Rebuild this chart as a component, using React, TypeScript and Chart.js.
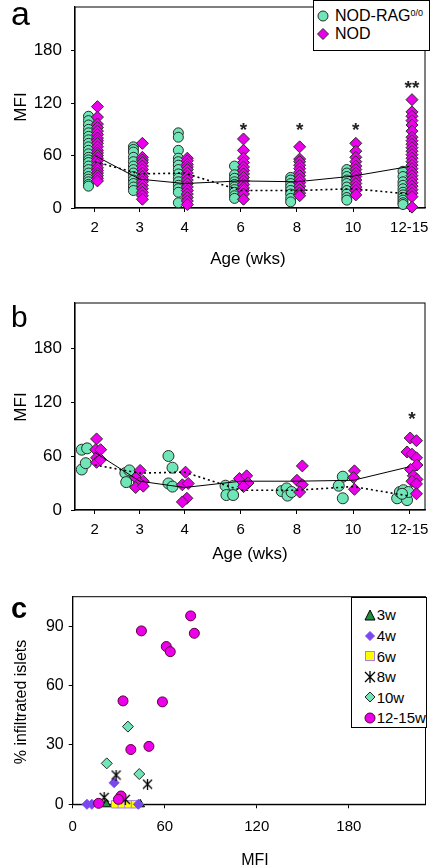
import React, { useEffect, useRef } from 'react';
import { Chart, registerables } from 'chart.js';

Chart.register(...registerables);

const FONT = '"Liberation Sans", Arial, Helvetica, sans-serif';

// ---------- shared axis data ----------
const AGE_LABELS = ['2', '3', '4', '6', '8', '10', '12-15'];
const AGE_POS = [1, 2, 3, 4.25, 5.5, 6.75, 8];
const AGE_MIN = 0.56;
const AGE_MAX = 8.35;
const MFI_TICKS = [0, 60, 120, 180];
const MFI_MAX = 230;

// ---------- panel a ----------
const A_RAG_MFI = [
  [105, 100, 95, 90, 86, 82, 78, 74, 70, 66, 62, 58, 55, 52, 48, 44, 40, 36, 33, 30, 27, 25],
  [70, 67, 64, 58, 53, 48, 44, 40, 36, 32, 28, 24, 20],
  [86, 81, 66, 57, 53, 49, 44, 39, 34, 30, 26, 22, 18, 6],
  [48, 38, 34, 30, 27, 24, 21, 18, 14, 11],
  [35, 32, 28, 24, 20, 16, 11, 7],
  [44, 40, 36, 32, 28, 24, 20, 16, 12, 9],
  [42, 36, 30, 26, 22, 18, 15, 12, 9, 6, 4],
];
const A_NOD_MFI = [
  [116, 104, 96, 92, 88, 84, 80, 77, 74, 70, 66, 63, 60, 57, 54, 50, 46, 43, 40, 37, 34, 31],
  [74, 58, 55, 52, 48, 44, 40, 36, 33, 30, 26, 22, 18, 14, 10],
  [57, 54, 50, 47, 44, 40, 36, 32, 28, 24, 20, 16, 12, 8, 4],
  [79, 66, 57, 52, 47, 43, 39, 35, 31, 27, 23, 20, 16, 10],
  [70, 56, 53, 49, 45, 41, 37, 33, 29, 25, 21, 17, 14],
  [74, 65, 58, 53, 48, 44, 40, 36, 32, 28, 24, 20, 15],
  [124, 110, 105, 100, 95, 88, 81, 77, 73, 69, 65, 61, 57, 53, 49, 45, 41, 37, 33, 29, 25, 21, 17, 13, 1],
];
const A_NOD_MEAN = [60, 33, 28, 31, 30, 36.5, 47.5];
const A_RAG_MEAN = [53, 39, 40, 20, 20, 22, 16];
const A_SIG = ['', '', '', '*', '*', '*', '**'];
const A_SIG_MFI = [0, 0, 0, 90, 90, 90, 139];

// ---------- panel b ----------
const B_RAG_X = [0.71, 0.8, 0.71, 0.83, 1.68, 1.77, 1.7, 2.64, 2.73, 2.64, 2.73, 3.91, 4.09, 3.93, 4.08, 5.16, 5.27, 5.29, 5.38, 6.52, 6.43, 6.52, 7.73, 7.79, 7.87, 7.95, 7.98, 7.84];
const B_RAG_MFI = [45, 52, 67, 68.5, 41, 44, 31, 60, 47, 29.5, 26, 27, 27, 16.6, 16.6, 21, 24, 16, 20, 37, 27, 13, 13, 20, 22, 11, 20, 18];
const B_NOD_X = [1.04, 1.02, 1.13, 1.04, 1.04, 1.13, 2.01, 1.91, 2.08, 1.99, 1.91, 2.08, 3.02, 2.95, 3.08, 3.05, 2.95, 4.22, 4.38, 4.41, 4.31, 5.62, 5.5, 5.62, 5.56, 6.78, 6.76, 6.78, 8.02, 8.16, 7.95, 8.06, 8.16, 8.17, 8.03, 8.09, 8.17, 8.06, 8.16, 8.16];
const B_NOD_MFI = [79, 67, 67, 58, 53, 56, 44, 36, 32, 30, 25, 26.5, 42, 28, 29.5, 13, 9, 35, 38, 30, 26, 49, 33, 28, 20, 43.5, 36, 23, 80, 77, 64.5, 62, 58, 50, 45, 38, 34, 32, 29, 18];
const B_NOD_MEAN = [64, 32, 25, 32, 32, 33, 48];
const B_RAG_MEAN = [50, 41, 42, 22, 22, 26, 15.5];
const B_SIG = ['', '', '', '', '', '', '*'];
const B_SIG_MFI = [0, 0, 0, 0, 0, 0, 102];

// ---------- panel c ----------
const C_X_TICKS = [0, 60, 120, 180];
const C_Y_TICKS = [0, 30, 60, 90];
const C_X_MAX = 230;
const C_Y_MAX = 105;
const C_3W_MFI = [22, 44];
const C_3W_PCT = [0, 0];
const C_4W_MFI = [9.3, 12.5, 27, 42.8];
const C_4W_PCT = [0, 0, 10.9, 0];
const C_6W_MFI = [27.6, 32, 36.3, 40.6];
const C_6W_PCT = [0, 0, 0, 0];
const C_8W_MFI = [28.3, 48.8, 20.5, 34.3];
const C_8W_PCT = [14.8, 10.2, 3.5, 2.5];
const C_10W_MFI = [22.2, 36, 43.4];
const C_10W_PCT = [20.7, 39.3, 15.3];
const C_12W_MFI = [76.9, 79.3, 44.8, 61, 63.6, 32.8, 58.5, 49.7, 37.9, 31.5, 29.8, 16.9];
const C_12W_PCT = [95.3, 86.5, 87.7, 79.8, 77.2, 52.3, 51.8, 29.3, 27.7, 4.2, 2.5, 0.5];

// ---------- colours ----------
const RAG_COLOR = '#6FE6B7';
const NOD_COLOR = '#EC00EC';
const EDGE = '#2a2a2a';
const C3_COLOR = '#1F8F3F';
const C4_COLOR = '#7B48F0';
const C6_COLOR = '#FFFF00';
const C6_EDGE = '#A77FE8';
const C12_EDGE = '#5a0030';

type Area = { left: number; top: number; right: number; bottom: number };

const zip = (xs: number[], ys: number[]) => xs.map((x, i) => ({ x, y: ys[i] }));

function axis(values: number[], labels: string[] | null, min: number, max: number, size: number, pad: number, fit: (s: any) => void) {
  return {
    type: 'linear',
    min,
    max,
    afterBuildTicks: (s: any) => {
      s.ticks = values.map((v) => ({ value: v }));
    },
    afterFit: (s: any) => {
      fit(s);
      s.paddingTop = 0;
      s.paddingBottom = 0;
      s.paddingLeft = 0;
      s.paddingRight = 0;
    },
    grid: { display: true, drawOnChartArea: false, drawTicks: true, tickLength: 4, color: '#000', lineWidth: 1 },
    border: { display: true, color: '#000', width: 1.2 },
    ticks: {
      autoSkip: false,
      maxRotation: 0,
      minRotation: 0,
      padding: pad,
      color: '#000',
      font: { family: FONT, size },
      callback: (_v: any, i: number) => (labels ? labels[i] : String(values[i])),
    },
  };
}

const framePlugin = {
  id: 'frame',
  beforeDatasetsDraw(chart: any) {
    const { ctx, chartArea } = chart;
    const { left, top, right, bottom } = chartArea;
    ctx.save();
    ctx.strokeStyle = '#000';
    ctx.lineWidth = 1;
    ctx.strokeRect(left, top, right - left, bottom - top);
    ctx.restore();
  },
};

function sigPlugin(xs: number[], ys: number[], texts: string[]) {
  return {
    id: 'sig',
    afterDatasetsDraw(chart: any) {
      const { ctx, scales } = chart;
      ctx.save();
      ctx.font = `bold 19px ${FONT}`;
      ctx.fillStyle = '#222';
      ctx.textAlign = 'center';
      ctx.textBaseline = 'alphabetic';
      texts.forEach((t, i) => {
        if (!t) return;
        ctx.fillText(t, scales.x.getPixelForValue(xs[i]), scales.y.getPixelForValue(ys[i]) + 7);
      });
      ctx.restore();
    },
  };
}

function baseOptions(area: Area, W: number, H: number, scales: any) {
  return {
    responsive: false,
    animation: false,
    events: [],
    layout: { padding: { left: 0, top: area.top, right: W - area.right, bottom: 0 } },
    plugins: { legend: { display: false }, tooltip: { enabled: false } },
    scales,
  };
}

function ageChartConfig(
  area: Area,
  W: number,
  H: number,
  rag: { x: number; y: number }[],
  nod: { x: number; y: number }[],
  ragMean: number[],
  nodMean: number[],
  sigTexts: string[],
  sigY: number[],
  ragR: number,
  nodR: number,
  xPad: number
) {
  const scales = {
    x: axis(AGE_POS, AGE_LABELS, AGE_MIN, AGE_MAX, 15, xPad, (s: any) => {
      s.height = H - area.bottom;
    }),
    y: axis(MFI_TICKS, null, 0, MFI_MAX, 17, 9, (s: any) => {
      s.width = area.left;
    }),
  };
  return {
    type: 'scatter',
    data: {
      datasets: [
        {
          label: 'NOD mean',
          data: zip(AGE_POS, nodMean),
          showLine: true,
          pointRadius: 0,
          borderColor: '#000',
          borderWidth: 1,
          order: 0,
          clip: false,
        },
        {
          label: 'NOD-RAG mean',
          data: zip(AGE_POS, ragMean),
          showLine: true,
          pointRadius: 0,
          borderColor: '#000',
          borderWidth: 1.6,
          borderDash: [2, 3],
          order: 0,
          clip: false,
        },
        {
          label: 'NOD',
          data: nod,
          pointStyle: 'rectRot',
          pointRadius: nodR,
          pointBackgroundColor: NOD_COLOR,
          pointBorderColor: EDGE,
          pointBorderWidth: 1,
          order: 1,
          clip: false,
        },
        {
          label: 'NOD-RAG',
          data: rag,
          pointStyle: 'circle',
          pointRadius: ragR,
          pointBackgroundColor: RAG_COLOR,
          pointBorderColor: EDGE,
          pointBorderWidth: 1,
          order: 2,
          clip: false,
        },
      ],
    },
    options: baseOptions(area, W, H, scales),
    plugins: [framePlugin, sigPlugin(AGE_POS.map((p) => p + 0.06), sigY, sigTexts)],
  };
}

function makeAsterisk(size: number) {
  const c = document.createElement('canvas');
  c.width = size;
  c.height = size;
  const g = c.getContext('2d')!;
  g.strokeStyle = '#000';
  g.lineWidth = 1.3;
  g.beginPath();
  g.moveTo(1, 1);
  g.lineTo(size - 1, size - 1);
  g.moveTo(size - 1, 1);
  g.lineTo(1, size - 1);
  g.moveTo(size / 2, 0);
  g.lineTo(size / 2, size);
  g.stroke();
  return c;
}

function cChartConfig(area: Area, W: number, H: number) {
  const scales = {
    x: axis(C_X_TICKS, null, 0, C_X_MAX, 15, 10, (s: any) => {
      s.height = H - area.bottom;
    }),
    y: axis(C_Y_TICKS, null, 0, C_Y_MAX, 16, 5, (s: any) => {
      s.width = area.left;
    }),
  };
  const common = { clip: false, pointBorderWidth: 1 };
  return {
    type: 'scatter',
    data: {
      datasets: [
        { label: '3w', data: zip(C_3W_MFI, C_3W_PCT), pointStyle: 'triangle', pointRadius: 5, pointBackgroundColor: C3_COLOR, pointBorderColor: '#000', order: 4, ...common },
        { label: '4w', data: zip(C_4W_MFI, C_4W_PCT), pointStyle: 'rectRot', pointRadius: 5, pointBackgroundColor: C4_COLOR, pointBorderColor: C4_COLOR, order: 3, ...common },
        { label: '6w', data: zip(C_6W_MFI, C_6W_PCT), pointStyle: 'rect', pointRadius: 5.2, pointBackgroundColor: C6_COLOR, pointBorderColor: C6_EDGE, order: 5, ...common },
        { label: '8w', data: zip(C_8W_MFI, C_8W_PCT), pointStyle: makeAsterisk(11), pointRadius: 5, order: 1, ...common },
        { label: '10w', data: zip(C_10W_MFI, C_10W_PCT), pointStyle: 'rectRot', pointRadius: 5.5, pointBackgroundColor: RAG_COLOR, pointBorderColor: EDGE, order: 2, ...common },
        { label: '12-15w', data: zip(C_12W_MFI, C_12W_PCT), pointStyle: 'circle', pointRadius: 5, pointBackgroundColor: NOD_COLOR, pointBorderColor: C12_EDGE, order: 0, ...common },
      ],
    },
    options: baseOptions(area, W, H, scales),
    plugins: [framePlugin],
  };
}

function ChartCanvas({ top, width, height, make }: { top: number; width: number; height: number; make: () => any }) {
  const ref = useRef<HTMLCanvasElement>(null);
  useEffect(() => {
    const chart = new Chart(ref.current as HTMLCanvasElement, make());
    return () => chart.destroy();
  }, []);
  return <canvas ref={ref} width={width} height={height} style={{ position: 'absolute', left: 0, top, width, height }} />;
}

function Txt({ x, y, size, children, rotate, bold }: { x: number; y: number; size: number; children: any; rotate?: boolean; bold?: boolean }) {
  return (
    <div
      style={{
        position: 'absolute',
        left: x,
        top: y,
        fontSize: size,
        lineHeight: 1,
        whiteSpace: 'nowrap',
        fontWeight: bold ? 'bold' : 'normal',
        transform: `translate(-50%, -50%)${rotate ? ' rotate(-90deg)' : ''}`,
      }}
    >
      {children}
    </div>
  );
}

const W = 432;
const A_H = 270;
const A_AREA: Area = { left: 75, top: 1, right: 430, bottom: 208 };
const B_TOP = 270;
const B_H = 295;
const B_AREA: Area = { left: 75, top: 33, right: 428, bottom: 240 };
const C_TOP = 575;
const C_H = 292;
const C_AREA: Area = { left: 72.7, top: 21.7, right: 426.7, bottom: 229.3 };

function Diamond({ size, fill, stroke }: { size: number; fill: string; stroke: string }) {
  const h = size / 2;
  return (
    <svg width={size + 2} height={size + 2} style={{ display: 'block' }}>
      <polygon points={`${h + 1},1 ${size + 1},${h + 1} ${h + 1},${size + 1} 1,${h + 1}`} fill={fill} stroke={stroke} strokeWidth={1} />
    </svg>
  );
}

function LegendA() {
  const row = (cy: number, marker: any, text: any) => (
    <>
      <div style={{ position: 'absolute', left: 9, top: cy, transform: 'translate(-50%, -50%)' }}>{marker}</div>
      <div style={{ position: 'absolute', left: 21, top: cy - 9, fontSize: 16, lineHeight: '18px', whiteSpace: 'nowrap' }}>{text}</div>
    </>
  );
  return (
    <div style={{ position: 'absolute', left: 313, top: 0, width: 117, height: 51, border: '1px solid #000', boxSizing: 'border-box', background: '#fff' }}>
      {row(
        14.7,
        <svg width={12} height={12} style={{ display: 'block' }}>
          <circle cx={6} cy={6} r={5} fill={RAG_COLOR} stroke={EDGE} strokeWidth={1} />
        </svg>,
        <span>
          NOD-RAG<span style={{ fontSize: 9, position: 'relative', top: -5 }}>0/0</span>
        </span>
      )}
      {row(33.3, <Diamond size={11} fill={NOD_COLOR} stroke={EDGE} />, 'NOD')}
    </div>
  );
}

function LegendC() {
  const items: [any, string][] = [
    [
      <svg width={12} height={12} style={{ display: 'block' }}>
        <polygon points="6,1 11,11 1,11" fill={C3_COLOR} stroke="#000" strokeWidth={1} />
      </svg>,
      '3w',
    ],
    [<Diamond size={9} fill={C4_COLOR} stroke={C4_COLOR} />, '4w'],
    [
      <svg width={12} height={12} style={{ display: 'block' }}>
        <rect x={1.5} y={1.5} width={9} height={9} fill={C6_COLOR} stroke={C6_EDGE} strokeWidth={1} />
      </svg>,
      '6w',
    ],
    [
      <svg width={12} height={12} style={{ display: 'block' }}>
        <path d="M1,1 L11,11 M11,1 L1,11 M6,0 L6,12" stroke="#000" strokeWidth={1.3} />
      </svg>,
      '8w',
    ],
    [<Diamond size={10} fill={RAG_COLOR} stroke={EDGE} />, '10w'],
    [
      <svg width={12} height={12} style={{ display: 'block' }}>
        <circle cx={6} cy={6} r={5} fill={NOD_COLOR} stroke={C12_EDGE} strokeWidth={1} />
      </svg>,
      '12-15w',
    ],
  ];
  return (
    <div style={{ position: 'absolute', left: 350.7, top: 596.7, width: 76, height: 131.3, border: '1px solid #000', boxSizing: 'border-box', background: '#fff' }}>
      {items.map(([m, t], i) => {
        const cy = 17.3 + i * 20.6;
        return (
          <React.Fragment key={t}>
            <div style={{ position: 'absolute', left: 18.3, top: cy, transform: 'translate(-50%, -50%)' }}>{m}</div>
            <div style={{ position: 'absolute', left: 25, top: cy - 8.5, fontSize: 15, lineHeight: '17px', whiteSpace: 'nowrap' }}>{t}</div>
          </React.Fragment>
        );
      })}
    </div>
  );
}

export default function App() {
  const aRag = A_RAG_MFI.flatMap((vals, g) => vals.map((v) => ({ x: AGE_POS[g] - 0.14, y: v })));
  const aNod = A_NOD_MFI.flatMap((vals, g) => vals.map((v) => ({ x: AGE_POS[g] + 0.06, y: v })));
  const bRag = zip(B_RAG_X, B_RAG_MFI);
  const bNod = zip(B_NOD_X, B_NOD_MFI);

  return (
    <div style={{ position: 'absolute', left: 0, top: 0, width: W, height: 867, background: '#fff', fontFamily: FONT, color: '#000', overflow: 'hidden' }}>
      <ChartCanvas
        top={0}
        width={W}
        height={A_H}
        make={() => ageChartConfig(A_AREA, W, A_H, aRag, aNod, A_RAG_MEAN, A_NOD_MEAN, A_SIG, A_SIG_MFI, 5, 6, 7)}
      />
      <ChartCanvas
        top={B_TOP}
        width={W}
        height={B_H}
        make={() => ageChartConfig(B_AREA, W, B_H, bRag, bNod, B_RAG_MEAN, B_NOD_MEAN, B_SIG, B_SIG_MFI, 5.5, 6, 7)}
      />
      <ChartCanvas top={C_TOP} width={W} height={C_H} make={() => cChartConfig(C_AREA, W, C_H)} />

      <LegendA />
      <LegendC />

      <div style={{ position: 'absolute', left: 11, top: -4, fontSize: 34, lineHeight: 1 }}>a</div>
      <div style={{ position: 'absolute', left: 11, top: 301.6, fontSize: 30, lineHeight: 1 }}>b</div>
      <div style={{ position: 'absolute', left: 11, top: 593.7, fontSize: 29, lineHeight: 1, fontWeight: 'bold' }}>c</div>

      <Txt x={20} y={107} size={17} rotate>
        MFI
      </Txt>
      <Txt x={248} y={258} size={17}>
        Age (wks)
      </Txt>
      <Txt x={20} y={407} size={17} rotate>
        MFI
      </Txt>
      <Txt x={250} y={553} size={17}>
        Age (wks)
      </Txt>
      <Txt x={21} y={702} size={16} rotate>
        % infiltrated islets
      </Txt>
      <Txt x={255} y={860} size={16}>
        MFI
      </Txt>
    </div>
  );
}
